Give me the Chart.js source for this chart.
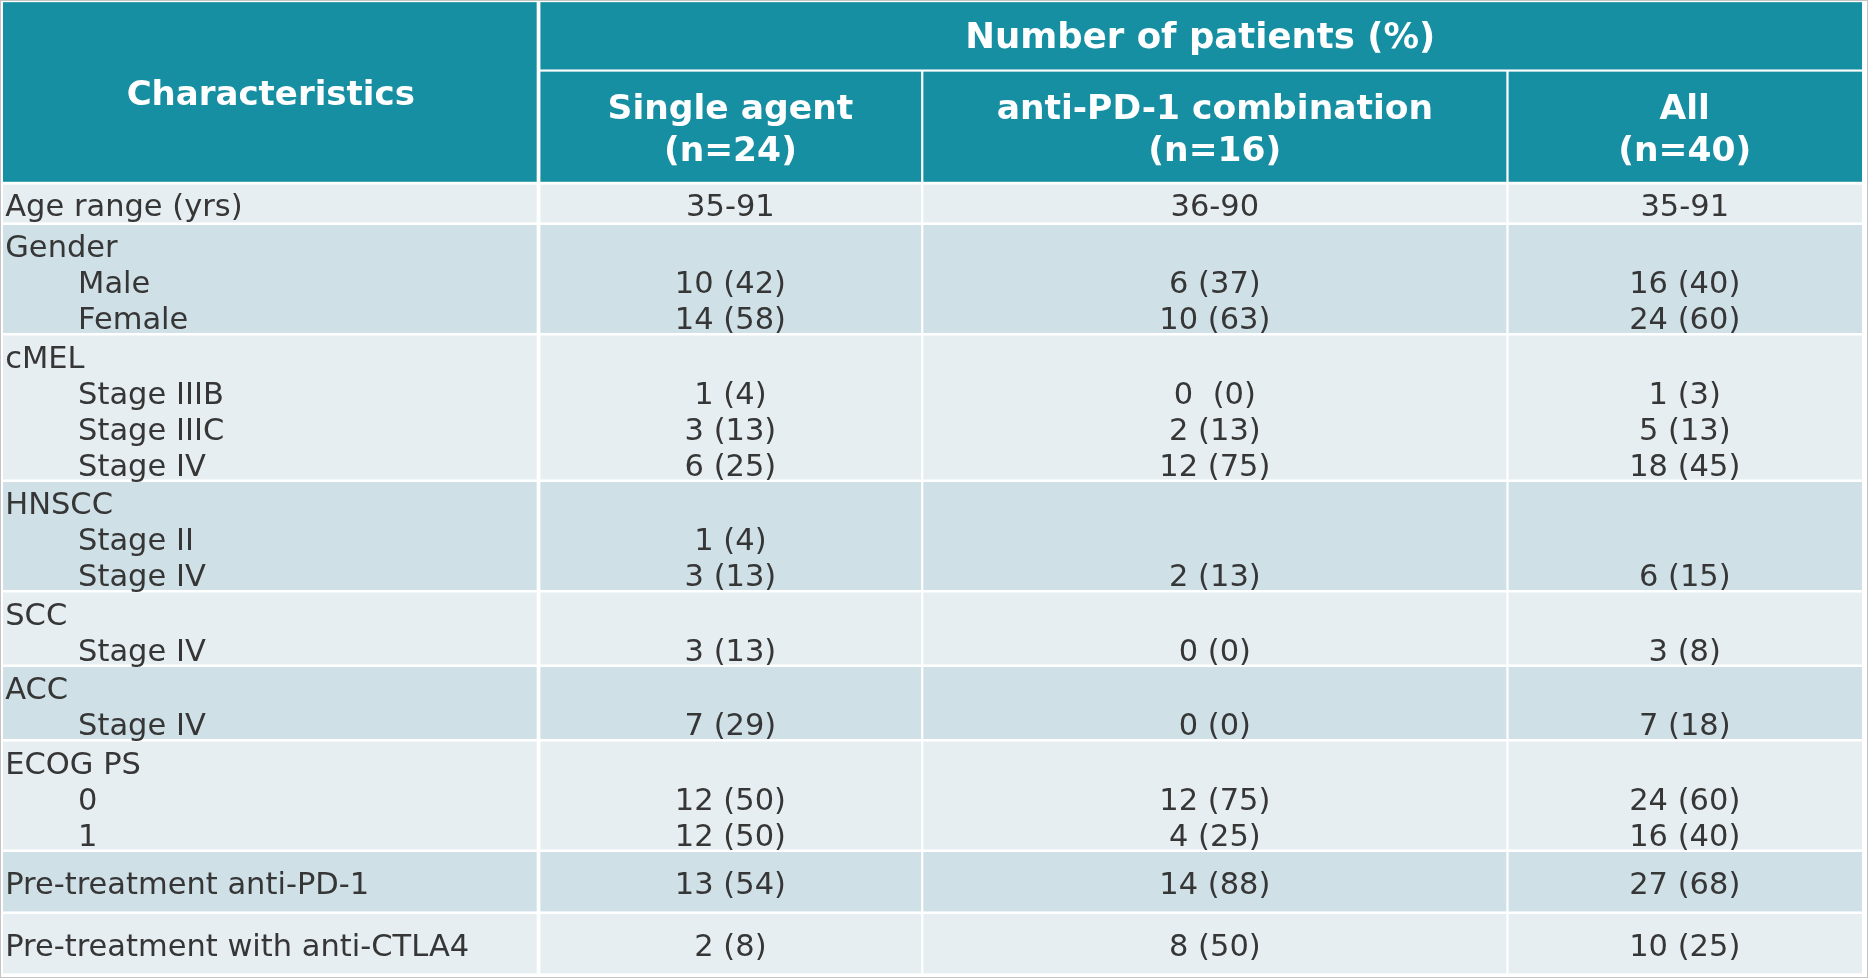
<!DOCTYPE html>
<html>
<head>
<meta charset="utf-8">
<script src="https://cdn.jsdelivr.net/npm/chart.js@4.4.1/dist/chart.umd.min.js"></script>
<style>
  html, body { margin: 0; padding: 0; background: #fff; }
  canvas { display: block; }
</style>
</head>
<body>
<canvas id="tableChart" width="1868" height="978"></canvas>
<script>
// table content
const headerTitle = "Characteristics";
const spanTitle = "Number of patients (%)";
const columnTitles = [["Single agent", "(n=24)"], ["anti-PD-1 combination", "(n=16)"], ["All", "(n=40)"]];

const rowLabels = [
  "Age range (yrs)",
  "Gender", "Male", "Female",
  "cMEL", "Stage IIIB", "Stage IIIC", "Stage IV",
  "HNSCC", "Stage II", "Stage IV",
  "SCC", "Stage IV",
  "ACC", "Stage IV",
  "ECOG PS", "0", "1",
  "Pre-treatment anti-PD-1",
  "Pre-treatment with anti-CTLA4"
];
const rowIndent = [0, 0, 1, 1, 0, 1, 1, 1, 0, 1, 1, 0, 1, 0, 1, 0, 1, 1, 0, 0];
const singleAgent = ["35-91", "", "10 (42)", "14 (58)", "", "1 (4)", "3 (13)", "6 (25)", "", "1 (4)", "3 (13)", "", "3 (13)", "", "7 (29)", "", "12 (50)", "12 (50)", "13 (54)", "2 (8)"];
const combination = ["36-90", "", "6 (37)", "10 (63)", "", "0  (0)", "2 (13)", "12 (75)", "", "", "2 (13)", "", "0 (0)", "", "0 (0)", "", "12 (75)", "4 (25)", "14 (88)", "8 (50)"];
const allPatients = ["35-91", "", "16 (40)", "24 (60)", "", "1 (3)", "5 (13)", "18 (45)", "", "", "6 (15)", "", "3 (8)", "", "7 (18)", "", "24 (60)", "16 (40)", "27 (68)", "10 (25)"];

// how many text lines each row group holds
const groupSizes = [1, 3, 4, 3, 2, 2, 3, 1, 1];
const groupLines = [1.05, 3, 4, 3, 2, 2, 3, 1.65, 1.65];

// layout (x in percent of width, y in text lines)
const colEdges = [0.16, 28.83, 49.37, 80.7, 99.68];
const colGap = [0.1, 0.06, 0.06];
const headerTop = 0.06, spanBottom = 1.93, subTop = 1.99, headerBottom = 5.05, bodyTop = 5.13, rowGap = 0.07;

const TEAL = "#178fa3";
const LIGHT = "#e6eef1";
const DARK = "#cfe0e7";
const INK = "#363636";

const tablePlugin = {
  id: "tableDraw",
  afterDraw(chart) {
    const ctx = chart.ctx;
    const x = v => chart.scales.x.getPixelForValue(v);
    const y = v => chart.scales.y.getPixelForValue(v);
    const rect = (x0, y0, x1, y1, color) => {
      ctx.fillStyle = color;
      ctx.fillRect(x(x0), y(y0), x(x1) - x(x0), y(y1) - y(y0));
    };
    ctx.save();

    // outer frame
    ctx.strokeStyle = "#c4c4c4";
    ctx.lineWidth = 1;
    ctx.strokeRect(0.5, 0.5, chart.width - 1, chart.height - 1);

    // header blocks
    rect(colEdges[0], headerTop, colEdges[1] - colGap[0], headerBottom, TEAL);
    rect(colEdges[1] + colGap[0], headerTop, colEdges[4], spanBottom, TEAL);
    for (let c = 1; c < 4; c++) {
      const l = colEdges[c] + (c === 1 ? colGap[0] : colGap[c - 1]);
      const r = colEdges[c + 1] - (c === 3 ? 0 : colGap[c]);
      rect(l, subTop, r, headerBottom, TEAL);
    }

    ctx.fillStyle = "#fff";
    ctx.textAlign = "center";
    ctx.textBaseline = "middle";
    ctx.font = "bold 34px 'DejaVu Sans'";
    ctx.fillText(headerTitle, x((colEdges[0] + colEdges[1]) / 2), y((headerTop + headerBottom) / 2 + 0.12));
    ctx.font = "bold 35.5px 'DejaVu Sans'";
    ctx.fillText(spanTitle, x((colEdges[1] + colEdges[4]) / 2), y((headerTop + spanBottom) / 2 + 0.08));
    ctx.font = "bold 34.5px 'DejaVu Sans'";
    columnTitles.forEach((lines, i) => {
      const cx = x((colEdges[i + 1] + colEdges[i + 2]) / 2);
      ctx.fillText(lines[0], cx, y(3.07));
      ctx.fillText(lines[1], cx, y(4.22));
    });

    // body groups
    let top = bodyTop;
    let line = 0;
    const cols = [singleAgent, combination, allPatients];
    groupSizes.forEach((n, g) => {
      const bottom = top + groupLines[g];
      const fill = g % 2 === 0 ? LIGHT : DARK;
      rect(colEdges[0], top, colEdges[1] - colGap[0], bottom, fill);
      for (let c = 1; c < 4; c++) {
        const l = colEdges[c] + (c === 1 ? colGap[0] : colGap[c - 1]);
        const r = colEdges[c + 1] - (c === 3 ? 0 : colGap[c]);
        rect(l, top, r, bottom, fill);
      }
      ctx.fillStyle = INK;
      ctx.font = "30.5px 'DejaVu Sans'";
      for (let k = 0; k < n; k++) {
        const i = line + k;
        const ty = (n === 1 ? (top + bottom) / 2 : top + 0.56 + k) + 0.12;
        ctx.textAlign = "left";
        ctx.fillText(rowLabels[i], x(colEdges[0] + 0.12 + rowIndent[i] * 3.9), y(ty));
        ctx.textAlign = "center";
        cols.forEach((vals, c) => {
          if (vals[i]) ctx.fillText(vals[i], x((colEdges[c + 1] + colEdges[c + 2]) / 2), y(ty));
        });
      }
      line += n;
      top = bottom + rowGap;
    });
    ctx.restore();
  }
};

new Chart(document.getElementById("tableChart").getContext("2d"), {
  type: "scatter",
  data: { datasets: [] },
  options: {
    responsive: false,
    animation: false,
    layout: { padding: 0 },
    plugins: { legend: { display: false }, tooltip: { enabled: false } },
    scales: {
      x: { type: "linear", min: 0, max: 100, display: false },
      y: { type: "linear", min: 0, max: 27.17, reverse: true, display: false }
    }
  },
  plugins: [tablePlugin]
});
</script>
</body>
</html>
